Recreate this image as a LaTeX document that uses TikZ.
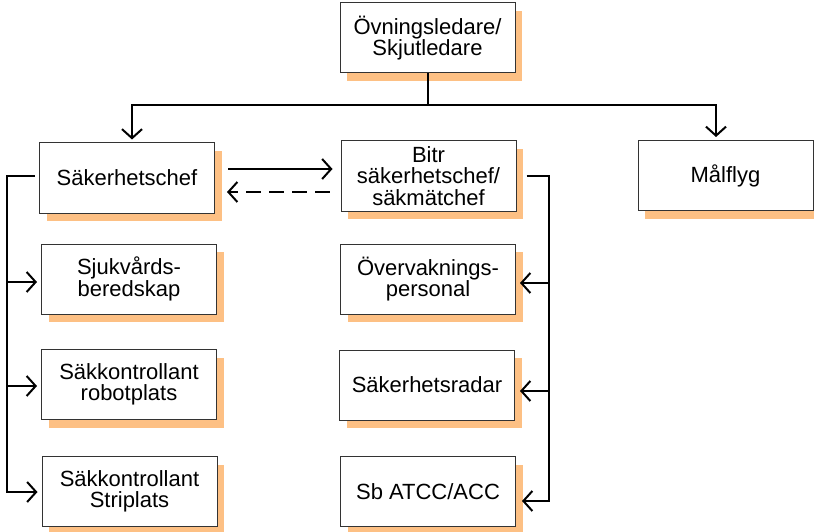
\documentclass[tikz,border=0pt]{standalone}
\usepackage{fontspec}
\setmainfont{Liberation Sans}
\usetikzlibrary{arrows.meta,shadows}
\definecolor{skugga}{RGB}{253,192,132}
\tikzset{
  rollbox/.style = {rectangle, draw=black!80, line width=1pt, fill=white,
    minimum width=175pt, minimum height=70pt, inner sep=0pt, align=center,
    font=\fontsize{22}{21.5}\selectfont,
    drop shadow={shadow xshift=7pt, shadow yshift=-8pt, fill=skugga,
      opacity=1}},% ruta med orange skugga
  linje/.style = {line width=2pt},% linje utan pil
  pil/.style = {linje, -{Straight Barb[length=9pt,width=20pt]}},% heldragen pil
  streckpil/.style = {pil, dash pattern=on 15pt off 8pt}% streckad pil
}
\begin{document}
\begin{tikzpicture}[x=1pt,y=-1pt]
\useasboundingbox (0,0) rectangle (814,532);
% rutor
\node [rollbox] (ovning) at (427.5,38) {Övningsledare/\\Skjutledare};
\node [rollbox] (sakchef) at (127,178) {Säkerhetschef};
\node [rollbox] (bitr) at (428.5,176) {Bitr\\säkerhetschef/\\säkmätchef};
\node [rollbox] (malflyg) at (725.5,175.5) {Målflyg};
\node [rollbox] (sjukvard) at (129,279) {Sjukvårds-\\beredskap};
\node [rollbox] (robot) at (129,384.5) {Säkkontrollant\\robotplats};
\node [rollbox] (strip) at (129.5,491.5) {Säkkontrollant\\Striplats};
\node [rollbox] (overvak) at (428,279) {Övervaknings-\\personal};
\node [rollbox] (radar) at (427,385) {Säkerhetsradar};
\node [rollbox] (atcc) at (428,491.5) {Sb ATCC/ACC};
% fran ledaren
\draw [linje] (ovning.south) -- ++(0,32) coordinate (gren);
\draw [pil] (gren) -| ([xshift=5pt,yshift=3pt]sakchef.north);
\draw [pil] (gren) -| ([xshift=-9.5pt,yshift=3pt]malflyg.north);
% mellan cheferna
\draw [pil] ([xshift=13pt,yshift=9pt]sakchef.east)
  -- ([xshift=-8pt,yshift=7pt]bitr.west);
\draw [streckpil] ([xshift=-11pt,yshift=-16pt]bitr.west)
  -- ([xshift=12pt,yshift=-14pt]sakchef.east);
% vanster gren
\coordinate (vfot) at ([xshift=-35pt,yshift=-0.5pt]strip.west);
\coordinate (sjuk-in) at ([xshift=-4pt,yshift=-3pt]sjukvard.west);
\coordinate (robot-in) at ([xshift=-4pt,yshift=-1.5pt]robot.west);
\draw [pil] ([xshift=-4pt,yshift=2pt]sakchef.west) -| (vfot)
  -- ([xshift=-4pt,yshift=-0.5pt]strip.west);
\draw [pil] (vfot |- sjuk-in) -- (sjuk-in);
\draw [pil] (vfot |- robot-in) -- (robot-in);
% hoger gren
\coordinate (hfot) at ([xshift=33pt,yshift=-9.5pt]atcc.east);
\coordinate (overvak-in) at ([xshift=4pt,yshift=-4pt]overvak.east);
\coordinate (radar-in) at ([xshift=5pt,yshift=-6pt]radar.east);
\draw [pil] ([xshift=10pt]bitr.east) -| (hfot)
  -- ([xshift=6pt,yshift=-9.5pt]atcc.east);
\draw [pil] (hfot |- overvak-in) -- (overvak-in);
\draw [pil] (hfot |- radar-in) -- (radar-in);
\end{tikzpicture}
\end{document}
